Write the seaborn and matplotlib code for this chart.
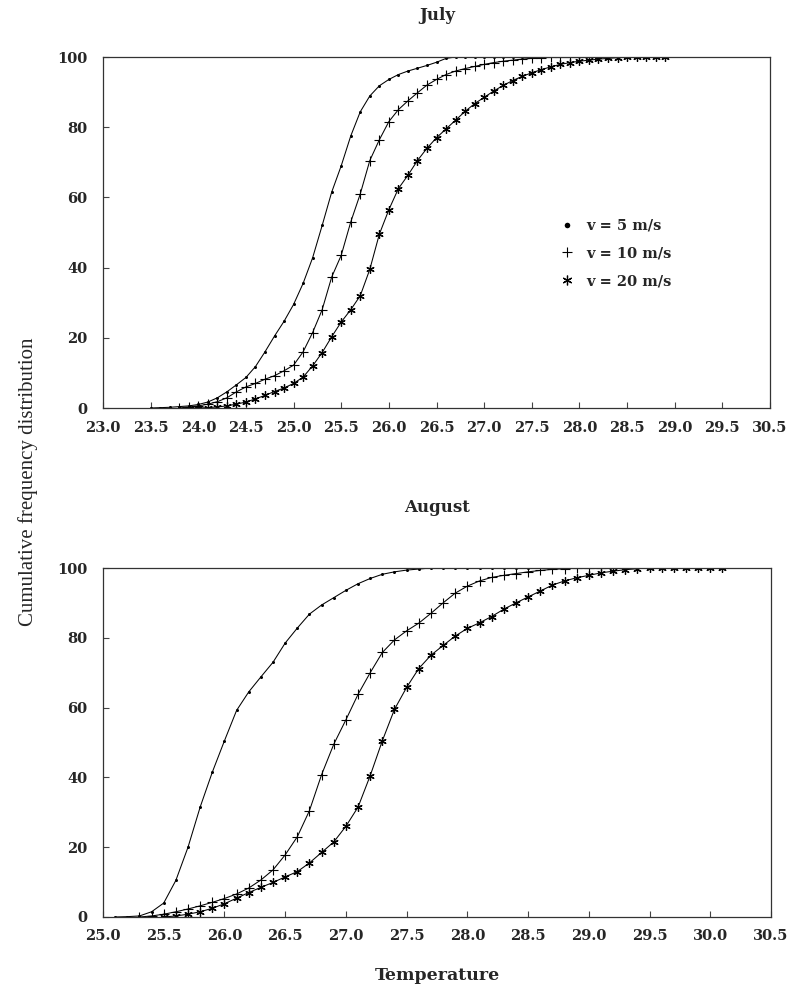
import matplotlib
matplotlib.use("Agg")
import seaborn as sns
from matplotlib import pyplot as plt
from matplotlib.lines import Line2D

# July: cumulative frequency (%) vs temperature, three wind speeds
july_t5 = [23.5, 23.6, 23.7, 23.8, 23.9, 24.0, 24.1, 24.2, 24.3, 24.4, 24.5, 24.6, 24.7, 24.8,
           24.9, 25.0, 25.1, 25.2, 25.3, 25.4, 25.5, 25.6, 25.7, 25.8, 25.9, 26.0, 26.1, 26.2,
           26.3, 26.4, 26.5, 26.6, 26.7, 26.8, 26.9, 27.0, 27.1, 27.2, 27.3, 27.4, 27.5]
july_p5 = [0, 0.1, 0.2, 0.4, 0.6, 1.0, 1.7, 2.9, 4.6, 6.6, 8.7, 11.8, 16.0, 20.5,
           24.7, 29.5, 35.5, 42.8, 52.0, 61.5, 69.0, 77.5, 84.4, 88.9, 91.8, 93.6, 95.0, 96.0,
           96.8, 97.6, 98.5, 99.6, 100, 100, 100, 100, 100, 100, 100, 100, 100]

july_t10 = [23.8, 23.9, 24.0, 24.1, 24.2, 24.3, 24.4, 24.5, 24.6, 24.7, 24.8, 24.9, 25.0, 25.1,
            25.2, 25.3, 25.4, 25.5, 25.6, 25.7, 25.8, 25.9, 26.0, 26.1, 26.2, 26.3, 26.4, 26.5,
            26.6, 26.7, 26.8, 26.9, 27.0, 27.1, 27.2, 27.3, 27.4, 27.5, 27.6, 27.7, 27.8, 27.9, 28.0]
july_p10 = [0, 0.3, 0.6, 1.1, 1.8, 2.9, 4.6, 6.0, 7.0, 8.2, 9.2, 10.6, 12.2, 16.0,
            21.5, 28.0, 37.3, 43.5, 53.0, 61.0, 70.5, 76.4, 81.6, 85.0, 87.5, 89.8, 92.0, 93.6,
            95.0, 96.0, 96.7, 97.3, 97.9, 98.4, 98.8, 99.1, 99.4, 99.6, 99.8, 99.9, 100, 100, 100]

july_t20 = [24.0, 24.1, 24.2, 24.3, 24.4, 24.5, 24.6, 24.7, 24.8, 24.9, 25.0, 25.1, 25.2, 25.3,
            25.4, 25.5, 25.6, 25.7, 25.8, 25.9, 26.0, 26.1, 26.2, 26.3, 26.4, 26.5, 26.6, 26.7,
            26.8, 26.9, 27.0, 27.1, 27.2, 27.3, 27.4, 27.5, 27.6, 27.7, 27.8, 27.9, 28.0, 28.1,
            28.2, 28.3, 28.4, 28.5, 28.6, 28.7, 28.8, 28.9]
july_p20 = [0, 0.1, 0.3, 0.6, 1.1, 1.7, 2.6, 3.6, 4.7, 5.7, 7.0, 8.8, 12.0, 15.8,
            20.3, 24.5, 28.0, 32.0, 39.5, 49.5, 56.5, 62.5, 66.3, 70.5, 74.0, 77.0, 79.5, 82.0,
            84.5, 86.7, 88.5, 90.3, 91.9, 93.3, 94.5, 95.5, 96.4, 97.2, 97.9, 98.4, 98.8, 99.1,
            99.4, 99.6, 99.8, 99.9, 100, 100, 100, 100]

# August
aug_t5 = [25.1, 25.2, 25.3, 25.4, 25.5, 25.6, 25.7, 25.8, 25.9, 26.0, 26.1, 26.2, 26.3, 26.4,
          26.5, 26.6, 26.7, 26.8, 26.9, 27.0, 27.1, 27.2, 27.3, 27.4, 27.5, 27.6, 27.7, 27.8,
          27.9, 28.0, 28.1, 28.2, 28.3, 28.4, 28.5]
aug_p5 = [0, 0.1, 0.3, 1.5, 4.0, 10.5, 20.0, 31.5, 41.5, 50.5, 59.2, 64.5, 68.8, 73.0,
          78.5, 82.8, 86.8, 89.4, 91.5, 93.6, 95.5, 97.0, 98.2, 98.9, 99.4, 99.7, 100, 100,
          100, 100, 100, 100, 100, 100, 100]

aug_t10 = [25.3, 25.4, 25.5, 25.6, 25.7, 25.8, 25.9, 26.0, 26.1, 26.2, 26.3, 26.4, 26.5, 26.6,
           26.7, 26.8, 26.9, 27.0, 27.1, 27.2, 27.3, 27.4, 27.5, 27.6, 27.7, 27.8, 27.9, 28.0,
           28.1, 28.2, 28.3, 28.4, 28.5, 28.6, 28.7, 28.8, 28.9, 29.0, 29.1]
aug_p10 = [0, 0.3, 0.8, 1.5, 2.3, 3.2, 4.2, 5.3, 6.6, 8.3, 10.6, 13.5, 17.8, 23.0,
           30.5, 40.8, 49.5, 56.5, 63.8, 70.0, 75.8, 79.4, 82.0, 84.2, 87.0, 90.0, 92.8, 94.8,
           96.3, 97.3, 97.9, 98.4, 98.9, 99.3, 99.6, 99.8, 100, 100, 100]

aug_t20 = [25.5, 25.6, 25.7, 25.8, 25.9, 26.0, 26.1, 26.2, 26.3, 26.4, 26.5, 26.6, 26.7, 26.8,
           26.9, 27.0, 27.1, 27.2, 27.3, 27.4, 27.5, 27.6, 27.7, 27.8, 27.9, 28.0, 28.1, 28.2,
           28.3, 28.4, 28.5, 28.6, 28.7, 28.8, 28.9, 29.0, 29.1, 29.2, 29.3, 29.4, 29.5, 29.6,
           29.7, 29.8, 29.9, 30.0, 30.1]
aug_p20 = [0, 0.3, 0.8, 1.5, 2.5, 3.8, 5.4, 7.0, 8.5, 9.9, 11.5, 13.0, 15.5, 18.5,
           21.5, 26.0, 31.5, 40.5, 50.5, 59.5, 65.8, 71.2, 75.0, 77.8, 80.5, 82.7, 84.3, 86.1,
           88.2, 90.0, 91.7, 93.4, 95.1, 96.3, 97.2, 97.9, 98.6, 99.1, 99.5, 99.8, 100, 100,
           100, 100, 100, 100, 100]

# tick labels as printed (the July axis shows "30.5" at its last tick)
july_ticks = [23.0, 23.5, 24.0, 24.5, 25.0, 25.5, 26.0, 26.5, 27.0, 27.5, 28.0, 28.5, 29.0, 29.5, 30.0]
july_tick_labels = ["23.0", "23.5", "24.0", "24.5", "25.0", "25.5", "26.0", "26.5", "27.0",
                    "27.5", "28.0", "28.5", "29.0", "29.5", "30.5"]
aug_ticks = [25.0, 25.5, 26.0, 26.5, 27.0, 27.5, 28.0, 28.5, 29.0, 29.5, 30.0, 30.5]
aug_tick_labels = ["25.0", "25.5", "26.0", "26.5", "27.0", "27.5", "28.0", "28.5", "29.0",
                   "29.5", "30.0", "30.5"]
y_ticks = [0, 20, 40, 60, 80, 100]
legend_labels = ["v = 5 m/s", "v = 10 m/s", "v = 20 m/s"]

sns.set_style("ticks")
plt.rcParams['font.family'] = ['DejaVu Serif']
plt.rcParams['font.weight'] = 'bold'

# marker styles for the three wind speeds: dot, plus, asterisk
styles = [dict(marker='o', markersize=2.2, markeredgewidth=0, markerfacecolor='black'),
          dict(marker='+', markersize=6.5, markeredgewidth=0.8, markeredgecolor='black'),
          dict(marker=(6, 2, 0), markersize=6, markeredgewidth=0.9, markeredgecolor='black')]

fig = plt.figure(figsize=(7.95, 9.92), dpi=100)
W, H = 795.0, 992.0
ax1 = fig.add_axes([103 / W, 1 - 408 / H, 667 / W, 351 / H])
ax2 = fig.add_axes([103 / W, 1 - 917 / H, 668 / W, 349 / H])


def draw_panel(ax, series, ticks, tick_labels, xlim):
    for (t, p), st in zip(series, styles):
        sns.lineplot(x=t, y=p, ax=ax, color='black', linewidth=0.75,
                     estimator=None, sort=False, **st)
    ax.set_xlim(*xlim)
    ax.set_ylim(0, 100)
    ax.set_xticks(ticks)
    ax.set_xticklabels(tick_labels)
    ax.set_yticks(y_ticks)
    ax.tick_params(direction='in', length=4, width=0.8, labelsize=10.5, pad=9, color='#444444')
    ax.tick_params(axis='y', pad=11)
    for s in ax.spines.values():
        s.set_linewidth(0.9)
        s.set_color('#333333')
    ax.set_xlabel("")
    ax.set_ylabel("")


draw_panel(ax1, [(july_t5, july_p5), (july_t10, july_p10), (july_t20, july_p20)],
           july_ticks, july_tick_labels, (23.0, 30.0))
draw_panel(ax2, [(aug_t5, aug_p5), (aug_t10, aug_p10), (aug_t20, aug_p20)],
           aug_ticks, aug_tick_labels, (25.0, 30.5))

handles = [Line2D([], [], color='black', linestyle='none', **st) for st in styles]
handles[0].set_markersize(4)
handles[2].set_markersize(7)
ax1.legend(handles, legend_labels, loc='center left', bbox_to_anchor=(0.665, 0.44),
           frameon=False, prop={'size': 10.5, 'weight': 'bold'}, handlelength=1.0,
           handletextpad=0.8, labelspacing=0.95)

fig.text(437 / W, 1 - 16 / H, "July", ha='center', va='center', fontsize=12, fontweight='bold')
fig.text(437 / W, 1 - 508 / H, "August", ha='center', va='center', fontsize=12, fontweight='bold')
fig.text(437 / W, 1 - 976 / H, "Temperature", ha='center', va='center', fontsize=12.5,
         fontweight='bold')
fig.text(28 / W, 1 - 482 / H, "Cumulative frequency distribution", ha='center', va='center',
         rotation=90, fontsize=15, fontweight='normal', family='Liberation Serif')

fig.savefig("out.png", dpi=100)
